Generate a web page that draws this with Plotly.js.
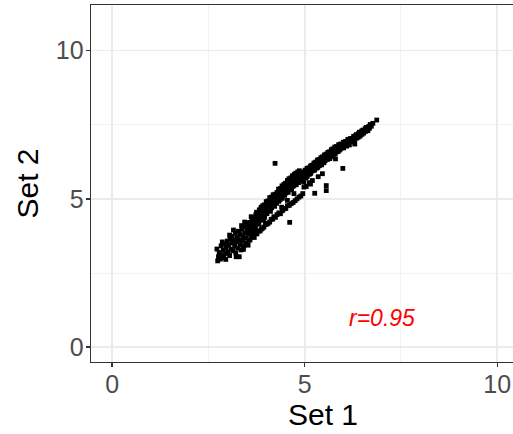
<!DOCTYPE html>
<html>
<head>
<meta charset="utf-8">
<script src="https://cdn.plot.ly/plotly-3.0.1.min.js"></script>
<style>
  html, body { margin: 0; padding: 0; overflow: hidden; background: #ffffff; }
  #chart { width: 600px; height: 434px; }
</style>
</head>
<body>
<div id="chart"></div>
<script>
// Paired measurements: Set 1 (x) against Set 2 (y)
const set1 = [
  // low end, broad spread
  2.72, 2.74, 2.76, 2.78, 2.81, 2.83, 2.85, 2.88, 2.90, 2.93, 2.95, 2.96, 2.99, 3.01, 3.03,
  3.05, 3.06, 3.09, 3.11, 3.12, 3.14, 3.16, 3.18, 3.20, 3.21, 3.23, 3.25, 3.27, 3.28, 3.30,
  3.32, 3.33, 3.35, 3.37, 3.38, 3.40, 3.42, 3.43, 3.45, 3.47, 3.48, 3.50, 3.51, 3.53, 3.54,
  // upper branch
  3.56, 3.57, 3.59, 3.60, 3.62, 3.63, 3.65, 3.67, 3.68, 3.70, 3.71, 3.73, 3.74, 3.76, 3.77,
  3.79, 3.80, 3.82, 3.83, 3.85, 3.86, 3.88, 3.89, 3.91, 3.92, 3.94, 3.95, 3.97, 3.98, 4.00,
  4.01, 4.03, 4.04, 4.06, 4.07, 4.09, 4.10, 4.12, 4.13, 4.15, 4.16, 4.18, 4.19, 4.21, 4.23,
  4.23, 4.25, 4.26, 4.28, 4.29, 4.31, 4.32, 4.34, 4.35, 4.37, 4.38, 4.40, 4.41, 4.43, 4.44,
  4.46, 4.47, 4.49, 4.50, 4.52, 4.53, 4.55, 4.56, 4.58, 4.59, 4.61, 4.62, 4.64, 4.65, 4.67,
  4.68, 4.70, 4.71, 4.73, 4.74, 4.76, 4.77, 4.79, 4.80, 4.82, 4.83, 4.85, 4.86, 4.88, 4.89,
  // lower branch
  3.58, 3.62, 3.66, 3.69, 3.73, 3.76, 3.80, 3.84, 3.87, 3.90, 3.94, 3.98, 4.02, 4.05, 4.09,
  4.13, 4.17, 4.20, 4.24, 4.28, 4.33, 4.37, 4.42, 4.46, 4.51, 4.55, 4.60, 4.61, 4.65, 4.70,
  4.75, 4.80, 4.85, 4.90, 4.95,
  // stragglers under the main band
  5.26, 5.56, 5.56, 5.99, 5.04, 5.12, 5.20, 5.35, 5.46, 4.98,
  // single band towards the top
  4.91, 4.92, 4.94, 4.95, 4.97, 4.98, 5.00, 5.01, 5.03, 5.04, 5.06, 5.07, 5.09, 5.10, 5.12,
  5.13, 5.15, 5.16, 5.18, 5.19, 5.21, 5.22, 5.24, 5.25, 5.27, 5.28, 5.30, 5.31, 5.33, 5.34,
  5.36, 5.37, 5.39, 5.40, 5.42, 5.43, 5.45, 5.46, 5.48, 5.49, 5.51, 5.52, 5.54, 5.55, 5.57,
  5.58, 5.60, 5.61, 5.63, 5.64, 5.66, 5.67, 5.69, 5.70, 5.72, 5.73, 5.75, 5.76, 5.78, 5.80,
  5.81, 5.83, 5.85, 5.86, 5.88, 5.90, 5.92, 5.93, 5.95, 5.97, 6.00, 6.02, 6.04, 6.06, 6.08,
  6.10, 6.12, 6.14, 6.17, 6.19, 6.22, 6.24, 6.27, 6.29, 6.32, 6.34, 6.37, 6.40, 6.42, 6.45,
  6.48, 6.51, 6.54, 6.57, 6.60, 6.63, 6.66, 6.70, 6.73, 6.77, 6.87,
  // lower half of the main band and loose points around it
  3.05, 3.15, 3.22, 3.36, 3.41, 3.49, 3.55, 3.61, 3.64, 3.72, 3.75, 3.81, 3.87, 3.93,
  3.96, 4.02, 4.04, 4.08, 4.11, 4.14, 4.17, 4.22, 4.27, 4.30, 4.33, 4.36, 4.39, 4.42,
  4.45, 4.48, 4.51, 4.54, 4.57, 4.60, 4.63, 4.66, 4.69, 4.72, 4.75, 4.78, 4.81, 4.84,
  4.87, 4.90, 4.93, 4.96, 5.02, 5.05, 5.08, 5.11, 5.14, 5.17, 5.23, 5.26, 5.29, 5.32,
  5.38, 5.41, 5.44, 5.47, 5.50, 5.53, 5.59, 5.62, 5.65, 5.68, 5.71, 5.74, 5.79, 5.82,
  5.87, 5.91, 5.94, 5.98, 6.01, 6.05, 6.09, 6.13, 6.16, 6.20, 6.25, 6.30, 6.35, 6.39,
  6.44, 6.49, 6.53, 6.58, 6.64, 6.68,
  4.55, 4.72, 5.15, 4.40, 3.70, 3.30, 2.95, 2.86, 3.44, 6.30, 5.80
];
const set2 = [
  3.31, 2.91, 3.05, 3.19, 2.97, 3.42, 3.11, 3.27, 3.02, 3.48, 3.16, 3.35, 3.58, 3.21, 3.43,
  3.09, 3.66, 3.30, 3.52, 3.74, 3.25, 3.61, 3.40, 3.85, 3.18, 3.55, 3.70, 3.34, 3.91, 3.62,
  3.46, 3.80, 3.28, 3.97, 3.58, 3.72, 3.41, 4.05, 3.86, 3.52, 3.68, 4.12, 3.95, 3.44, 3.81,
  4.07, 3.88, 4.21, 3.99, 4.10, 4.33, 4.01, 4.24, 4.36, 4.12, 4.26, 4.47, 4.15, 4.38, 4.50,
  4.27, 4.40, 4.63, 4.30, 4.53, 4.66, 4.42, 4.55, 4.77, 4.44, 4.66, 4.80, 4.55, 4.70, 4.91,
  4.58, 4.79, 4.93, 4.69, 4.83, 5.04, 4.70, 4.92, 5.06, 4.82, 4.95, 5.14, 4.85, 5.05, 6.20,
  5.16, 4.94, 5.12, 5.22, 5.00, 5.13, 5.33, 5.03, 5.24, 5.35, 5.12, 5.26, 5.44, 5.16, 5.35,
  5.49, 5.25, 5.41, 5.53, 5.30, 5.44, 5.62, 5.33, 5.50, 5.68, 5.42, 5.56, 5.71, 5.47, 5.64,
  5.78, 5.49, 5.69, 5.83, 5.58, 5.72, 5.87, 5.60, 5.79, 5.91, 5.68, 5.80, 5.95, 5.71, 5.87,
  3.62, 3.72, 3.74, 3.70, 3.84, 3.82, 3.91, 3.92, 3.98, 4.01, 4.05, 4.14, 4.15, 4.18, 4.22,
  4.31, 4.32, 4.40, 4.38, 4.47, 4.53, 4.50, 4.60, 4.66, 4.68, 4.77, 4.78, 4.21, 4.84, 4.88,
  4.94, 5.00, 5.06, 5.10, 5.18,
  5.19, 5.45, 5.28, 6.03, 5.42, 5.55, 5.62, 5.75, 5.85, 5.40,
  5.62, 5.79, 5.66, 5.91, 5.76, 5.57, 5.86, 5.97, 5.71, 5.87, 6.03, 5.77, 5.94, 6.05, 5.83,
  5.97, 6.11, 5.87, 6.05, 6.14, 5.95, 6.07, 6.21, 5.97, 6.13, 6.24, 6.04, 6.17, 6.31, 6.07,
  6.23, 6.33, 6.15, 6.26, 6.39, 6.19, 6.33, 6.42, 6.26, 6.36, 6.48, 6.29, 6.42, 6.51, 6.36,
  6.45, 6.57, 6.39, 6.51, 6.59, 6.46, 6.54, 6.66, 6.49, 6.61, 6.69, 6.56, 6.63, 6.75, 6.59,
  6.70, 6.77, 6.66, 6.73, 6.83, 6.71, 6.80, 6.85, 6.76, 6.83, 6.91, 6.79, 6.89, 6.94, 6.86,
  6.92, 7.01, 6.89, 6.99, 7.04, 6.97, 7.03, 7.11, 7.01, 7.13, 7.17, 7.11, 7.21, 7.25, 7.19,
  7.29, 7.32, 7.27, 7.37, 7.41, 7.36, 7.44, 7.51, 7.45, 7.55, 7.66,
  3.78, 3.95, 3.05, 4.10, 3.30, 4.20, 3.60, 4.40, 3.85, 4.05, 4.55, 4.15, 4.72, 4.28,
  4.38, 4.50, 4.62, 4.85, 4.58, 4.70, 4.88, 4.75, 4.85, 5.02, 4.92, 4.98, 5.08, 5.02,
  5.15, 5.12, 5.20, 5.25, 5.22, 5.30, 5.35, 5.32, 5.42, 5.45, 5.50, 5.48, 5.58, 5.55,
  5.62, 5.60, 5.66, 5.70, 5.78, 5.75, 5.85, 5.88, 5.86, 5.95, 6.00, 5.98, 6.06, 6.05,
  6.12, 6.18, 6.15, 6.24, 6.22, 6.30, 6.33, 6.38, 6.36, 6.44, 6.42, 6.48, 6.52, 6.58,
  6.60, 6.65, 6.70, 6.74, 6.72, 6.80, 6.78, 6.84, 6.82, 6.92, 6.95, 7.00, 7.05, 7.08,
  7.12, 7.18, 7.22, 7.28, 7.30, 7.38,
  4.95, 5.18, 5.50, 4.72, 3.95, 3.05, 2.96, 3.55, 4.22, 6.85, 6.35
];

// Correlation label and where it sits on the data scale
const corrLabel = "r=0.95";
const corrX = [7];
const corrY = [1];

const xTicks = [0, 5, 10];
const yTicks = [0, 5, 10];

const FONT = "Liberation Sans, Arial, Helvetica, sans-serif";

const axisBase = {
  showline: true,
  linecolor: "#333333",
  linewidth: 1.4,
  ticks: "outside",
  ticklen: 4,
  tickwidth: 1.4,
  tickcolor: "#333333",
  tickfont: { family: FONT, size: 25, color: "#4D4D4D" },
  showgrid: true,
  gridcolor: "#EBEBEB",
  gridwidth: 1.6,
  zeroline: false,
  tickmode: "array",
  minor: { dtick: 2.5, tick0: 0, showgrid: true, gridcolor: "#EFEFEF", gridwidth: 0.8, ticks: "" }
};

const trace = {
  type: "scatter",
  mode: "markers",
  x: set1,
  y: set2,
  marker: { symbol: "square", size: 4.8, color: "#000000" },
  hoverinfo: "x+y"
};

// The panel runs past the right edge of the 513px window
const layout = {
  width: 600,
  height: 434,
  margin: { l: 91, r: 45, t: 5, b: 72, pad: 0 },
  paper_bgcolor: "#ffffff",
  plot_bgcolor: "#ffffff",
  showlegend: false,
  font: { family: FONT },
  xaxis: Object.assign({}, axisBase, {
    mirror: true,
    range: [-0.55, 11.5],
    tickvals: xTicks,
    ticktext: xTicks.map(String),
    ticklabelstandoff: -4,
    title: { text: "Set 1", font: { family: FONT, size: 30, color: "#000000" }, standoff: 3 }
  }),
  yaxis: Object.assign({}, axisBase, {
    mirror: false,
    range: [-0.5, 11.54],
    tickvals: yTicks,
    ticktext: yTicks.map(String),
    ticklabelstandoff: -3,
    title: { text: "Set 2", font: { family: FONT, size: 30, color: "#000000" }, standoff: 8 }
  }),
  annotations: [{
    x: corrX[0], y: corrY[0], xref: "x", yref: "y",
    text: "<i>" + corrLabel + "</i>",
    showarrow: false,
    font: { family: FONT, size: 23, color: "#FF0000" },
    xanchor: "center", yanchor: "middle"
  }]
};

Plotly.newPlot("chart", [trace], layout, { displayModeBar: false, staticPlot: true });
</script>
</body>
</html>
